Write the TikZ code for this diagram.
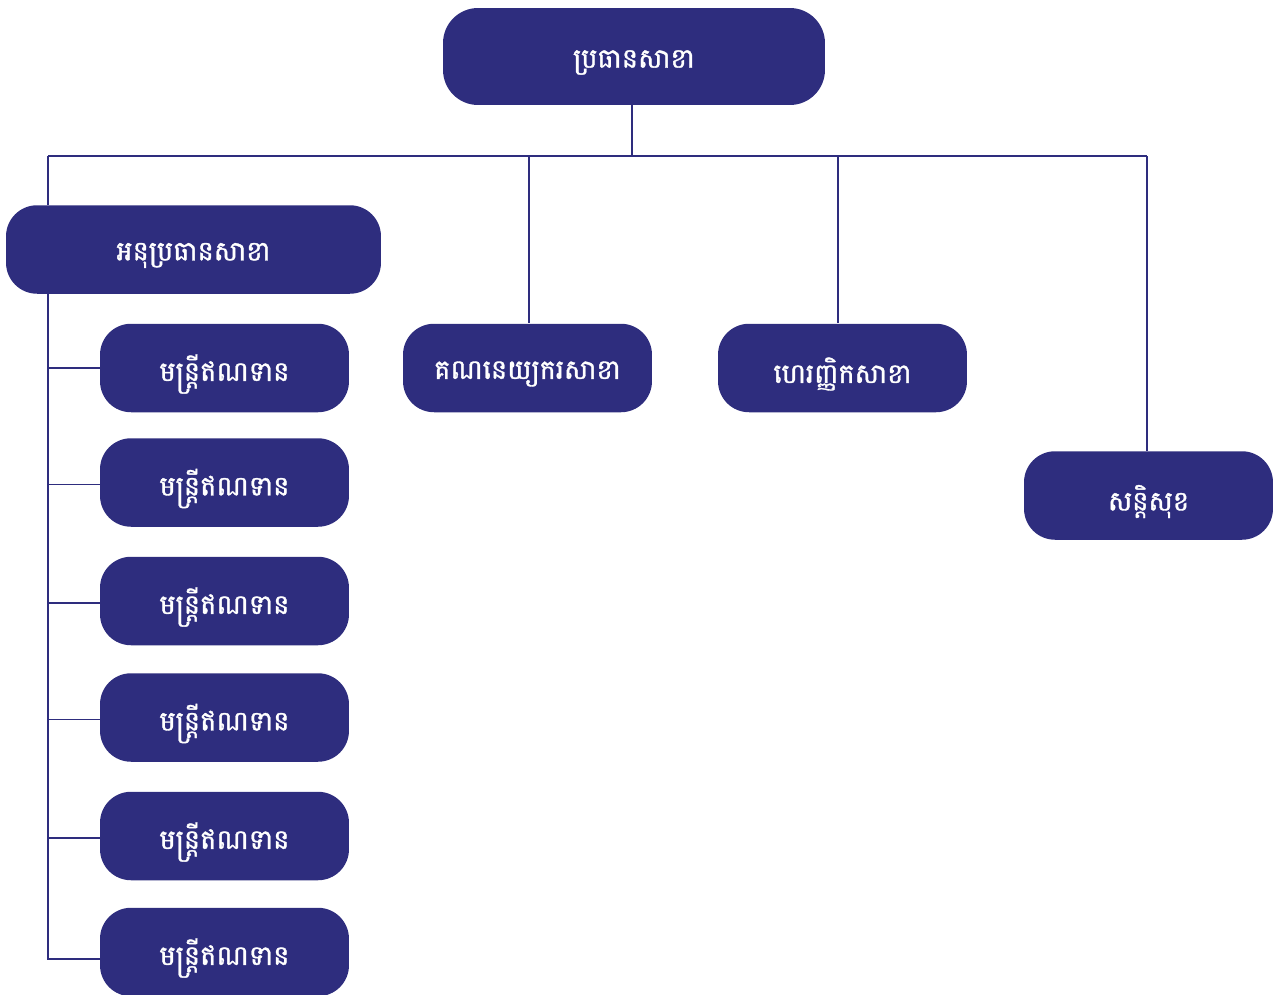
\documentclass[tikz,border=0pt]{standalone}
\usepackage{fontspec}
\usepackage{xcolor}
\usepackage{tikz}
\usetikzlibrary{positioning, calc}
\newfontfamily\khmerfont[Script=Khmer, FakeBold=1.3]{Battambang}
\definecolor{boxblue}{RGB}{46,45,126}
\newcommand{\boxtext}[1]{\raisebox{-0.12cm}[\height][\depth]{#1}}

\begin{document}
\begin{tikzpicture}[x=0.02cm, y=-0.02cm]

		\tikzstyle{rolebox}=[rectangle, rounded corners=0.62cm, fill=boxblue, draw=none, text=white, inner sep=0pt, minimum width=4.98cm, minimum height=1.77cm, font=\khmerfont\fontsize{15.5}{19}\selectfont]
		\tikzstyle{link}=[draw=boxblue, line width=1.1pt]

		\useasboundingbox (0,0) rectangle (1276,995);

		\node (head) at (634,56.5) [rolebox, minimum width=7.64cm, minimum height=1.94cm, rounded corners=0.7cm] {\boxtext{ប្រធានសាខា}};
		\node (deputy) at (193.5,249.5) [rolebox, minimum width=7.5cm] {\boxtext{អនុប្រធានសាខា}};

		\node (off1) at (224.5,368) [rolebox] {\boxtext{មន្ត្រីឥណទាន}};
		\node (off2) at (224.5,482.5) [rolebox] {\boxtext{មន្ត្រីឥណទាន}};
		\node (off3) at (224.5,601) [rolebox] {\boxtext{មន្ត្រីឥណទាន}};
		\node (off4) at (224.5,717.5) [rolebox] {\boxtext{មន្ត្រីឥណទាន}};
		\node (off5) at (224.5,836) [rolebox] {\boxtext{មន្ត្រីឥណទាន}};
		\node (off6) at (224.5,952) [rolebox] {\boxtext{មន្ត្រីឥណទាន}};

		\node (acct) at (527.5,368) [rolebox] {\boxtext{គណនេយ្យករសាខា}};
		\node (treas) at (842.5,368) [rolebox] {\boxtext{ហេរញ្ញិកសាខា}};
		\node (sec) at (1148.5,495.5) [rolebox] {\boxtext{សន្តិសុខ}};

		\coordinate (busl) at (48,156);
		\coordinate (busr) at (1147,156);

		\draw [link] (head.south -| 632,0) -- (632,156);
		\draw [link] (busl) -- (busr);

		\draw [link] (busl) -- (busl |- deputy.north);
		\draw [link] (529,156) -- (acct.north -| 529,0);
		\draw [link] (838,156) -- (treas.north -| 838,0);
		\draw [link] (busr) -- (busr |- sec.north);

		\draw [link] (busl |- deputy.south) -- ($(busl |- off6.west)+(0,7)$) -- ($(off6.west)+(0,7)$);
		\draw [link] (busl |- off1.west) -- (off1.west);
		\draw [link] ($(busl |- off2.west)+(0,2)$) -- ($(off2.west)+(0,2)$);
		\draw [link] ($(busl |- off3.west)+(0,2)$) -- ($(off3.west)+(0,2)$);
		\draw [link] ($(busl |- off4.west)+(0,2)$) -- ($(off4.west)+(0,2)$);
		\draw [link] ($(busl |- off5.west)+(0,2)$) -- ($(off5.west)+(0,2)$);

\end{tikzpicture}
\end{document}
